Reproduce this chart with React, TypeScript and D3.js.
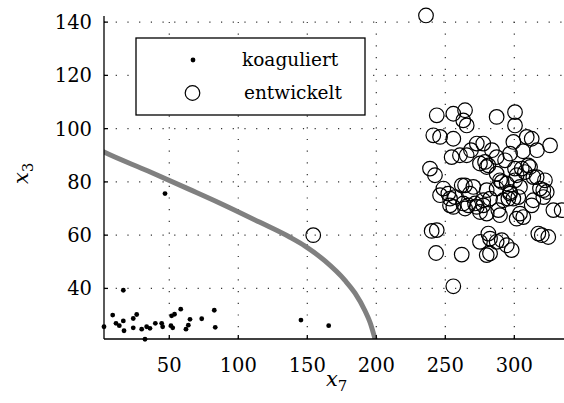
import React from "react";
import * as d3 from "d3";

const W = 564;
const H = 403;

// koaguliert (x7, x3)
const coagX = [2.7, 9.0, 11.4, 13.8, 16.7, 16.7, 17.2, 23.9, 26.4, 23.9, 30.0, 32.4, 33.6, 36.0, 39.9, 44.5, 45.2, 51.2, 51.7, 53.8, 52.5, 58.3, 62.1, 63.8, 65.0, 73.5, 82.6, 83.3, 46.9, 145.4, 165.5];
const coagY = [25.6, 30.0, 26.9, 26.0, 39.3, 27.8, 24.1, 28.7, 30.2, 25.2, 24.7, 20.9, 25.6, 25.0, 26.9, 26.9, 25.6, 26.0, 29.7, 30.3, 25.2, 32.2, 24.7, 26.2, 28.4, 28.6, 31.8, 25.4, 75.6, 28.1, 26.0];

// entwickelt (x7, x3)
const devX = [236.0, 154.3, 240.1, 243.3, 261.9, 255.8, 281.2, 275.1, 280.0, 282.4, 290.9, 298.1, 317.4, 319.9, 324.6, 328.3, 334.3, 238.9, 242.5, 246.2, 253.4, 255.8, 254.6, 260.6, 265.5, 264.3, 270.3, 266.7, 271.5, 277.5, 280.0, 275.1, 280.0, 287.2, 289.6, 288.4, 289.6, 296.9, 300.5, 301.7, 296.9, 299.3, 302.9, 301.7, 306.5, 311.4, 313.8, 321.0, 323.5, 312.6, 325.9, 243.8, 255.8, 264.3, 263.0, 265.5, 287.2, 300.5, 300.5, 241.3, 246.2, 255.8, 272.8, 277.5, 299.3, 309.0, 312.6, 278.8, 281.2, 287.2, 305.4, 307.7, 310.1, 316.2, 322.2, 318.6, 248.6, 252.2, 257.0, 261.9, 267.9, 263.0, 264.3, 272.8, 275.1, 277.5, 280.0, 282.4, 287.2, 290.9, 294.5, 296.9, 300.5, 304.1, 292.0, 295.7, 304.1, 313.8, 321.0, 243.8, 282.4, 287.2, 294.5, 253.4, 268.6, 283.8, 293.3, 316.4, 306.3];
const devY = [142.5, 60.0, 61.6, 53.3, 52.7, 40.8, 60.6, 57.5, 52.5, 53.1, 58.1, 54.4, 60.6, 60.0, 59.3, 69.4, 69.4, 85.0, 82.5, 75.0, 73.7, 70.6, 89.3, 90.0, 90.0, 78.7, 78.1, 71.2, 71.9, 71.2, 68.1, 86.9, 85.6, 83.1, 80.6, 69.4, 67.5, 90.6, 85.0, 82.5, 75.6, 73.7, 74.3, 66.2, 66.8, 85.6, 81.8, 76.9, 76.2, 71.2, 93.7, 105.0, 105.6, 106.9, 103.1, 101.2, 104.4, 106.2, 101.2, 97.5, 96.9, 96.2, 94.4, 94.4, 95.0, 96.9, 96.2, 87.5, 86.2, 89.3, 85.0, 83.7, 86.2, 81.8, 80.6, 77.5, 77.5, 75.6, 74.3, 78.7, 75.6, 71.9, 70.0, 70.6, 68.7, 73.1, 76.9, 73.7, 77.5, 80.0, 79.4, 76.2, 80.6, 78.1, 73.1, 73.7, 68.1, 73.1, 74.3, 61.9, 58.7, 57.5, 56.2, 71.2, 91.9, 91.9, 88.1, 91.9, 91.5];

// decision boundary
const boundX = [0, 2.7, 34.6, 65.0, 86.8, 115.7, 137.5, 148.4, 162.8, 177.3, 184.6, 191.8, 195.5, 199.1, 201.3];
const boundY = [91.9, 91.2, 84.1, 77.1, 72.0, 64.8, 59.2, 55.9, 50.3, 43.0, 38.2, 31.6, 27.2, 21.0, 16.9];

const xTicks = [50, 100, 150, 200, 250, 300];
const yTicks = [40, 60, 80, 100, 120, 140];
const xDomain = [2.7, 336];
const yDomain = [21, 142.3];
const legendLabels = ["koaguliert", "entwickelt"];

const FONT = "'DejaVu Serif', serif";

export default function App() {
  const left = 104, right = 564, top = 16, bottom = 339;
  const x = d3.scaleLinear().domain(xDomain).range([left, right]);
  const y = d3.scaleLinear().domain(yDomain).range([bottom, top]);

  const line = d3
    .line<number>()
    .x((_, i) => x(boundX[i]))
    .y((d) => y(d))
    .curve(d3.curveMonotoneX);

  return (
    <svg
      width={W}
      height={H}
      style={{ position: "absolute", left: 0, top: 0, background: "#fff" }}
      fontFamily={FONT}
    >
      <defs>
        <clipPath id="plotTight">
          <rect x={left} y={top} width={right - left} height={bottom - top} />
        </clipPath>
      </defs>
      <rect x={0} y={0} width={W} height={H} fill="#fff" />
      {/* grid */}
      <g stroke="#333" strokeWidth={1.2} strokeDasharray="1.2 10.5">
        {xTicks.map((t) => (
          <line key={"gx" + t} x1={x(t)} x2={x(t)} y1={bottom} y2={top} />
        ))}
        {yTicks.map((t) => (
          <line key={"gy" + t} x1={left} x2={right} y1={y(t)} y2={y(t)} />
        ))}
      </g>
      {/* boundary */}
      <path
        d={line(boundY) || ""}
        fill="none"
        stroke="#808080"
        strokeWidth={5}
        clipPath="url(#plotTight)"
      />
      {/* points */}
      <g>
        {coagX.map((v, i) => (
          <circle key={"c" + i} cx={x(v)} cy={y(coagY[i])} r={2.4} fill="#000" />
        ))}
        {devX.map((v, i) => (
          <circle
            key={"d" + i}
            cx={x(v)}
            cy={y(devY[i])}
            r={7.3}
            fill="none"
            stroke="#000"
            strokeWidth={1.2}
          />
        ))}
      </g>
      {/* axes */}
      <g stroke="#000" strokeWidth={1.3}>
        <line x1={left} x2={left} y1={top} y2={bottom} />
        <line x1={left} x2={right} y1={bottom} y2={bottom} />
        {xTicks.map((t) => (
          <line key={"tx" + t} x1={x(t)} x2={x(t)} y1={bottom} y2={bottom - 4} />
        ))}
        {yTicks.map((t) => (
          <line key={"ty" + t} x1={left} x2={left + 4} y1={y(t)} y2={y(t)} />
        ))}
      </g>
      <g fontSize={19.5} fill="#000">
        {xTicks.map((t) => (
          <text key={"lx" + t} x={x(t)} y={372} textAnchor="middle">
            {t}
          </text>
        ))}
        {yTicks.map((t) => (
          <text key={"ly" + t} x={92} y={y(t) + 7} textAnchor="end">
            {t}
          </text>
        ))}
      </g>
      {/* axis labels */}
      <text x={326} y={386} fontSize={21} fontStyle="italic">
        x<tspan fontSize={15} fontStyle="normal" dy={5}>7</tspan>
      </text>
      <text transform="translate(28,184) rotate(-90)" fontSize={21} fontStyle="italic">
        x<tspan fontSize={15} fontStyle="normal" dy={5}>3</tspan>
      </text>
      {/* legend */}
      <rect x={136} y={38} width={229} height={77} fill="#fff" stroke="#000" strokeWidth={1.3} />
      <circle cx={193} cy={60} r={2.4} fill="#000" />
      <circle cx={192.5} cy={93} r={7.3} fill="none" stroke="#000" strokeWidth={1.2} />
      <text x={242} y={66} fontSize={18.5}>{legendLabels[0]}</text>
      <text x={244} y={99} fontSize={18.5}>{legendLabels[1]}</text>
    </svg>
  );
}
